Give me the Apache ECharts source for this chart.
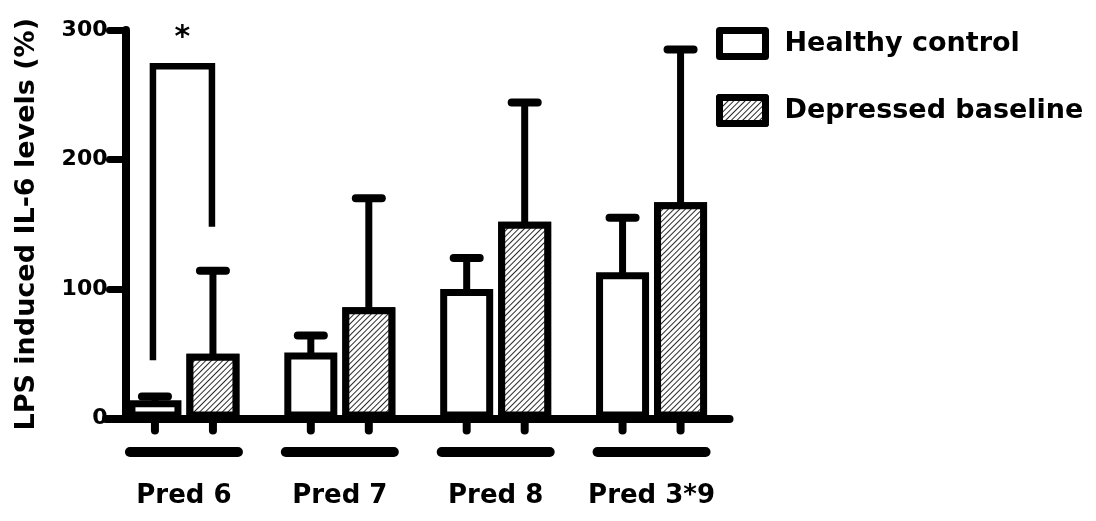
<!DOCTYPE html>
<html>
<head>
<meta charset="utf-8">
<script src="https://cdn.jsdelivr.net/npm/echarts@6/dist/echarts.min.js"></script>
<style>
  html, body { margin: 0; padding: 0; background: #fff; }
  #chart { width: 1096px; height: 521px; }
</style>
</head>
<body>
<div id="chart"></div>
<script>
// ---- data ----
const categories = ['Pred 6', 'Pred 7', 'Pred 8', 'Pred 3*9'];
const seriesNames = ['Healthy control', 'Depressed baseline'];
const healthyMean = [14, 51, 100, 113];
const healthyErrTop = [17, 64, 124, 155];
const depressedMean = [50, 86, 152, 167];
const depressedErrTop = [114, 170, 244, 285];
const yMin = 0, yMax = 300, yInterval = 100;
const yAxisName = 'LPS induced IL-6 levels (%)';
// significance bracket: category index and values of its ends
const sigCategory = [0];
const sigLeftBottom = [45];
const sigRightBottom = [148];
const sigTop = [272];
const sigLabel = ['*'];

// ---- styles ----
const FONT = "'DejaVu Sans', 'Liberation Sans', Arial, sans-serif";
const BAR_W = 53;
const BAR_GAP_PX = 5;
const BORDER = 7;
const INK = '#000';

const chart = echarts.init(document.getElementById('chart'), null, { renderer: 'canvas' });

const hatch = {
  symbol: 'rect',
  symbolSize: 1,
  dashArrayX: [1, 0],
  dashArrayY: [1, 2.2],
  rotation: -Math.PI / 4,
  color: '#2a2a2a',
  backgroundColor: '#fff'
};

function barOffset(si) {
  return (si === 0 ? -1 : 1) * (BAR_W + BAR_GAP_PX) / 2;
}

const errData = [];
categories.forEach((c, i) => {
  errData.push([i, 0, healthyMean[i], healthyErrTop[i]]);
  errData.push([i, 1, depressedMean[i], depressedErrTop[i]]);
});

const sigData = sigCategory.map((c, k) => [c, sigLeftBottom[k], sigRightBottom[k], sigTop[k], sigLabel[k]]);

const option = {
  backgroundColor: '#fff',
  animation: false,
  textStyle: { fontFamily: FONT, fontWeight: 'bold', color: INK },
  grid: { left: 106, right: 366.5, top: 30, bottom: 102.5 },
  legend: {
    data: seriesNames,
    orient: 'vertical',
    left: 716,
    top: 27,
    padding: 0,
    itemWidth: 46,
    itemHeight: 26,
    itemGap: 34,
    icon: 'rect',
    itemStyle: { borderColor: INK, borderWidth: 7, borderJoin: 'round' },
    textStyle: { fontFamily: FONT, fontWeight: 'bold', fontSize: 27, color: INK, padding: [0, 0, 0, 14], lineHeight: 26 }
  },
  xAxis: {
    type: 'category',
    data: categories,
    axisLine: { lineStyle: { color: INK, width: 8, cap: 'round' } },
    axisTick: { show: false },
    axisLabel: {
      margin: 28.5,
      interval: 0,
      formatter: v => '{bar|}\n{name|' + v + '}',
      rich: {
        bar: { width: 118, height: 10, backgroundColor: INK, borderRadius: 5, align: 'center' },
        name: { fontFamily: FONT, fontWeight: 'bold', fontSize: 26, color: INK, lineHeight: 30, padding: [49, 0, 0, 0], align: 'center' }
      }
    },
    splitLine: { show: false }
  },
  yAxis: {
    type: 'value',
    min: yMin,
    max: yMax,
    interval: yInterval,
    offset: -19.5,
    name: yAxisName,
    nameLocation: 'middle',
    nameGap: 85,
    nameTextStyle: { fontFamily: FONT, fontWeight: 'bold', fontSize: 27, color: INK },
    axisLine: { show: true, lineStyle: { color: INK, width: 8, cap: 'round' } },
    axisTick: { show: true, length: 16, lineStyle: { color: INK, width: 7, cap: 'round' } },
    axisLabel: { margin: 18, fontFamily: FONT, fontWeight: 'bold', fontSize: 22, color: INK },
    splitLine: { show: false }
  },
  series: [
    {
      name: seriesNames[0],
      type: 'bar',
      data: healthyMean,
      barWidth: BAR_W,
      barGap: (BAR_GAP_PX / BAR_W * 100) + '%',
      itemStyle: { color: '#fff', borderColor: INK, borderWidth: BORDER },
      z: 3
    },
    {
      name: seriesNames[1],
      type: 'bar',
      data: depressedMean,
      barWidth: BAR_W,
      barGap: (BAR_GAP_PX / BAR_W * 100) + '%',
      itemStyle: { color: '#fff', borderColor: INK, borderWidth: BORDER, decal: hatch },
      z: 3
    },
    {
      type: 'custom',
      data: errData,
      z: 2,
      silent: true,
      renderItem: function (params, api) {
        const ci = api.value(0), si = api.value(1);
        const off = barOffset(si);
        const top = api.coord([ci, api.value(2)]);
        const err = api.coord([ci, api.value(3)]);
        const base = api.coord([ci, 0]);
        const x = top[0] + off;
        return {
          type: 'group',
          children: [
            { type: 'line', shape: { x1: x, y1: top[1] + 4, x2: x, y2: err[1] }, style: { stroke: INK, lineWidth: 7 } },
            { type: 'line', shape: { x1: x - 13, y1: err[1], x2: x + 13, y2: err[1] }, style: { stroke: INK, lineWidth: 8, lineCap: 'round' } },
            { type: 'line', shape: { x1: x, y1: base[1], x2: x, y2: base[1] + 12 }, style: { stroke: INK, lineWidth: 8, lineCap: 'round' } }
          ]
        };
      }
    },
    {
      type: 'custom',
      data: sigData,
      z: 4,
      silent: true,
      renderItem: function (params, api) {
        const ci = api.value(0);
        const lb = api.coord([ci, api.value(1)]);
        const rb = api.coord([ci, api.value(2)]);
        const tp = api.coord([ci, api.value(3)]);
        const xl = lb[0] + barOffset(0) - 2;
        const xr = lb[0] + barOffset(1) - 1;
        return {
          type: 'group',
          children: [
            { type: 'polyline', shape: { points: [[xl, lb[1]], [xl, tp[1]], [xr, tp[1]], [xr, rb[1]]] }, style: { stroke: INK, lineWidth: 6.5, fill: null } },
            { type: 'text', style: { text: sigData[params.dataIndex][4], x: (xl + xr) / 2, y: tp[1] - 28, align: 'center', verticalAlign: 'middle', fontFamily: FONT, fontWeight: 'bold', fontSize: 30, fill: INK } }
          ]
        };
      }
    }
  ]
};

chart.setOption(option);
</script>
</body>
</html>
